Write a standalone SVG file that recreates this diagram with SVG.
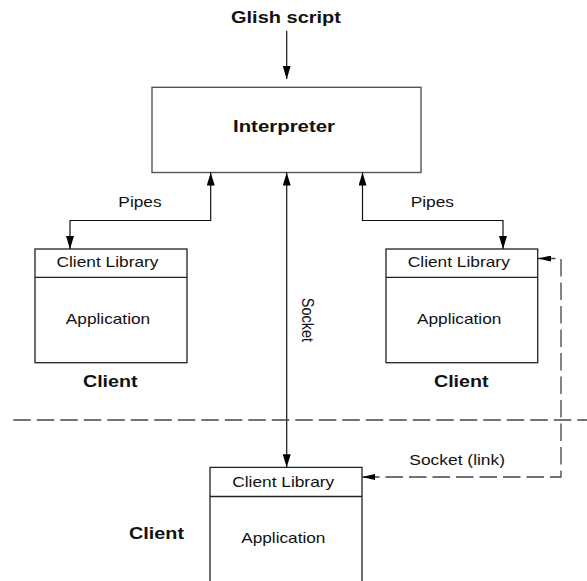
<svg xmlns="http://www.w3.org/2000/svg" width="587" height="581" viewBox="0 0 587 581">
  <style>
    .reg { font-family: "Liberation Sans", Arial, sans-serif; font-size: 14.5px; fill: #111; text-anchor: middle; }
    .bold { font-family: "Liberation Sans", Arial, sans-serif; font-size: 17px; font-weight: bold; fill: #111; text-anchor: middle; }
    .box { fill: #fff; stroke: #222; stroke-width: 1.3; }
    .ibox { fill: #fff; stroke: #555; stroke-width: 1.4; }
    .div { stroke: #222; stroke-width: 1.3; fill: none; }
    .conn { fill: none; stroke: #111; stroke-width: 1.2; }
    .dash { fill: none; stroke: #444; stroke-width: 1.3; stroke-dasharray: 17.5 6; }
  </style>
  <defs>
    <marker id="av" viewBox="0 0 13 8" refX="13" refY="4" markerWidth="13" markerHeight="8" markerUnits="userSpaceOnUse" orient="auto-start-reverse">
      <path d="M0,0 L13,4 L0,8 z" fill="#000"/>
    </marker>
    <marker id="ah" viewBox="0 0 13 6" refX="13" refY="3" markerWidth="13" markerHeight="6" markerUnits="userSpaceOnUse" orient="auto-start-reverse">
      <path d="M0,0 L13,3 L0,6 z" fill="#000"/>
    </marker>
  </defs>

  <g id="glish-script">
    <text class="bold" x="286" y="23.4" font-size="16.5" textLength="110" lengthAdjust="spacingAndGlyphs">Glish script</text>
  </g>

  <g id="interpreter">
    <rect class="ibox" x="152" y="87.3" width="269" height="85.2"/>
    <text class="bold" x="284" y="131.7" textLength="102" lengthAdjust="spacingAndGlyphs">Interpreter</text>
  </g>

  <g id="client-left">
    <rect class="box" x="35" y="249" width="152" height="113.7"/>
    <line class="div" x1="35" y1="277.3" x2="187" y2="277.3"/>
    <text class="reg" x="107.5" y="267.3" textLength="102" lengthAdjust="spacingAndGlyphs">Client Library</text>
    <text class="reg" x="108" y="324" textLength="84.3" lengthAdjust="spacingAndGlyphs">Application</text>
    <text class="bold" x="110.3" y="386.7" textLength="54.7" lengthAdjust="spacingAndGlyphs">Client</text>
  </g>

  <g id="client-right">
    <rect class="box" x="386" y="249" width="151.7" height="113.7"/>
    <line class="div" x1="386" y1="277.3" x2="537.7" y2="277.3"/>
    <text class="reg" x="458.8" y="267.3" textLength="102" lengthAdjust="spacingAndGlyphs">Client Library</text>
    <text class="reg" x="459.2" y="324" textLength="84.3" lengthAdjust="spacingAndGlyphs">Application</text>
    <text class="bold" x="461.3" y="386.7" textLength="54.7" lengthAdjust="spacingAndGlyphs">Client</text>
  </g>

  <g id="client-bottom">
    <path class="box" d="M210,590 V467.3 H362 V590"/>
    <line class="div" x1="210" y1="496.5" x2="362" y2="496.5"/>
    <text class="reg" x="283.2" y="487.3" textLength="102" lengthAdjust="spacingAndGlyphs">Client Library</text>
    <text class="reg" x="283.3" y="543.3" textLength="84.3" lengthAdjust="spacingAndGlyphs">Application</text>
    <text class="bold" x="156.5" y="539.3" textLength="55" lengthAdjust="spacingAndGlyphs">Client</text>
  </g>

  <g id="connectors">
    <line class="conn" x1="286.7" y1="30.7" x2="286.7" y2="79" marker-end="url(#av)"/>
    <path class="conn" d="M70,249 V220.5 H210.7 V172.6" marker-start="url(#av)" marker-end="url(#av)"/>
    <path class="conn" d="M503,249 V220.5 H362.5 V172.6" marker-start="url(#av)" marker-end="url(#av)"/>
    <line class="conn" x1="286.7" y1="172.6" x2="286.7" y2="467.3" marker-start="url(#av)" marker-end="url(#av)"/>
    <path class="dash" d="M362,477 H561 V258.5 H538" marker-start="url(#ah)" marker-end="url(#ah)"/>
    <line class="dash" x1="13.3" y1="420" x2="587" y2="420"/>
    <text class="reg" x="140" y="206.7" textLength="43.3" lengthAdjust="spacingAndGlyphs">Pipes</text>
    <text class="reg" x="432.3" y="206.7" textLength="43.3" lengthAdjust="spacingAndGlyphs">Pipes</text>
    <text class="reg" transform="translate(302,320) scale(1.18,1) rotate(90)" x="0" y="0">Socket</text>
    <text class="reg" x="457.2" y="465" textLength="95.7" lengthAdjust="spacingAndGlyphs">Socket (link)</text>
  </g>
</svg>
